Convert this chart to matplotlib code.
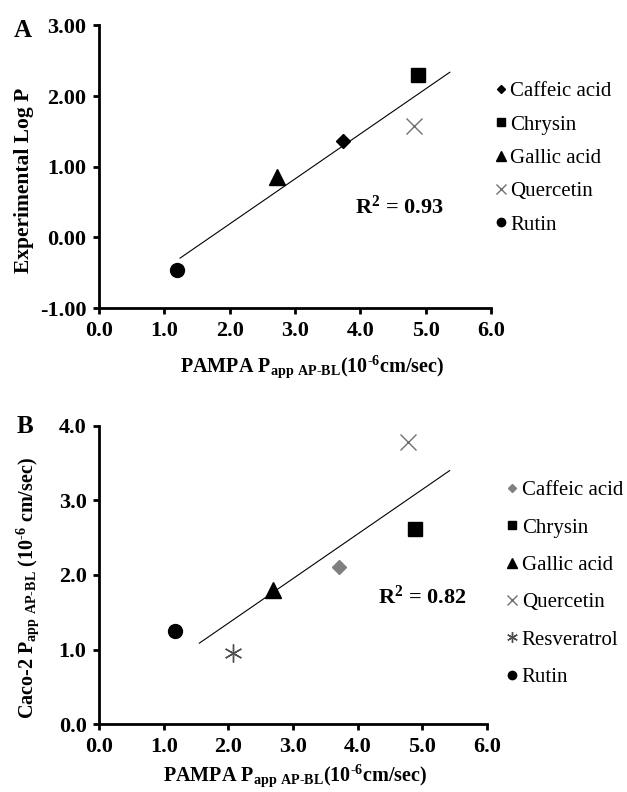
import numpy as np
import matplotlib
matplotlib.use('Agg')
import matplotlib.pyplot as plt

plt.rcParams['font.family'] = ['Liberation Serif', 'DejaVu Serif']
plt.rcParams['mathtext.fontset'] = 'custom'
plt.rcParams['mathtext.rm'] = 'Liberation Serif'
plt.rcParams['mathtext.bf'] = 'Liberation Serif:bold'
plt.rcParams['mathtext.default'] = 'bf'

# panel A data
A_compounds = ['Caffeic acid', 'Chrysin', 'Gallic acid', 'Quercetin', 'Rutin']
A_pampa = [3.74, 4.89, 2.72, 4.82, 1.19]
A_logp = [1.36, 2.30, 0.86, 1.58, -0.46]
A_r2 = 'R$^{2}$ = 0.93'

# panel B data
B_compounds = ['Caffeic acid', 'Chrysin', 'Gallic acid', 'Quercetin', 'Resveratrol', 'Rutin']
B_pampa = [3.71, 4.88, 2.69, 4.78, 2.07, 1.18]
B_caco2 = [2.11, 2.61, 1.80, 3.78, 0.95, 1.25]
B_r2 = 'R$^{2}$ = 0.82'

A_yticks = [-1.0, 0.0, 1.0, 2.0, 3.0]
B_yticks = [0.0, 1.0, 2.0, 3.0, 4.0]
xticks = [0.0, 1.0, 2.0, 3.0, 4.0, 5.0, 6.0]

styles = {
    'Caffeic acid': dict(marker='D', ms=7.5, color='black'),
    'Chrysin': dict(marker='s', ms=10, color='black'),
    'Gallic acid': dict(marker='^', ms=11, color='black'),
    'Quercetin': dict(marker='x', ms=11, color='#707070', mew=1.0),
    'Resveratrol': dict(marker=(6, 2, 0), ms=13, color='#505050', mew=1.0),
    'Rutin': dict(marker='o', ms=10, color='black'),
}

hyph = '\u2010'
xlab = 'PAMPA P$_{app\\ AP' + hyph + 'BL}$(10$^{' + hyph + '6}$cm/sec)'
fs = 16
leg_fs = 15

fig = plt.figure(figsize=(6.27, 7.92), dpi=100)
axA = fig.add_axes([0.158, 0.611, 0.625, 0.357])
axB = fig.add_axes([0.158, 0.0855, 0.619, 0.377])


def draw(ax, names, xs, ys, fit_range, caffeic_color='black'):
    for n, x, y in zip(names, xs, ys):
        st = dict(styles[n])
        if n == 'Caffeic acid':
            st['color'] = caffeic_color
        ax.plot([x], [y], linestyle='none', label=n, zorder=3,
                marker=st['marker'], ms=st['ms'], color=st['color'],
                mew=st.get('mew', 1.0))
    k, b = np.polyfit(xs, ys, 1)
    fx = np.array(fit_range)
    ax.plot(fx, k * fx + b, color='black', lw=0.8, zorder=2)
    for s in ['top', 'right']:
        ax.spines[s].set_visible(False)
    for s in ['left', 'bottom']:
        ax.spines[s].set_linewidth(2.0)
    ax.tick_params(direction='out', length=4, width=2.0, labelsize=fs, pad=5)


draw(axA, A_compounds, A_pampa, A_logp, (1.24, 5.37))
axA.set_xlim(0, 6)
axA.set_ylim(-1, 3)
axA.set_xticks(xticks)
axA.set_yticks(A_yticks)
axA.set_xticklabels(['%.1f' % v for v in xticks], fontweight='bold')
axA.set_yticklabels(['%.2f' % v for v in A_yticks], fontweight='bold')
axA.set_xlabel(xlab, fontsize=14.5, fontweight='bold', va='center')
axA.xaxis.set_label_coords(0.543, -0.208)
axA.set_ylabel('Experimental Log P', fontsize=15.5, fontweight='bold', va='center')
axA.yaxis.set_label_coords(-0.192, 0.452)
axA.text(4.6, 0.43, A_r2, fontsize=fs, fontweight='bold', ha='center', va='center')
axA.legend(loc='upper left', bbox_to_anchor=(0.99, 0.83), frameon=False,
           fontsize=leg_fs, markerscale=0.6, handlelength=0.5, handletextpad=0.2,
           labelspacing=0.66, borderaxespad=0)
fig.text(0.022, 0.962, 'A', fontsize=18, fontweight='bold', va='center')

draw(axB, B_compounds, B_pampa, B_caco2, (1.55, 5.42), caffeic_color='#808080')
axB.set_xlim(0, 6)
axB.set_ylim(0, 4)
axB.set_xticks(xticks)
axB.set_yticks(B_yticks)
axB.set_xticklabels(['%.1f' % v for v in xticks], fontweight='bold')
axB.set_yticklabels(['%.1f' % v for v in B_yticks], fontweight='bold')
axB.set_xlabel(xlab, fontsize=14.5, fontweight='bold', va='center')
axB.xaxis.set_label_coords(0.505, -0.172)
axB.set_ylabel('Caco-2 P$_{app\\ AP' + hyph + 'BL}$ (10$^{' + hyph + '6}$ cm/sec)',
               fontsize=14.5, fontweight='bold', va='center')
axB.yaxis.set_label_coords(-0.184, 0.456)
axB.text(5.0, 1.7, B_r2, fontsize=fs, fontweight='bold', ha='center', va='center')
axB.legend(loc='upper left', bbox_to_anchor=(1.03, 0.843), frameon=False,
           fontsize=leg_fs, markerscale=0.6, handlelength=0.5, handletextpad=0.2,
           labelspacing=0.85, borderaxespad=0)
fig.text(0.027, 0.462, 'B', fontsize=18, fontweight='bold', va='center')

fig.savefig('out.png', dpi=100)
